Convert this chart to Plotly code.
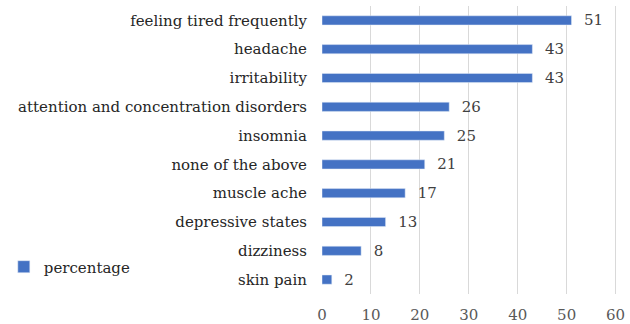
import plotly.graph_objects as go

categories = ["feeling tired frequently", "headache", "irritability",
              "attention and concentration disorders", "insomnia",
              "none of the above", "muscle ache", "depressive states",
              "dizziness", "skin pain"]
values = [51, 43, 43, 26, 25, 21, 17, 13, 8, 2]
series_name = "percentage"
x_ticks = [0, 10, 20, 30, 40, 50, 60]

FONT = "DejaVu Serif"

fig = go.Figure(go.Bar(
    y=categories, x=values, orientation="h", name=series_name,
    marker=dict(color="#4472C4"),
    width=0.32,
    text=values, texttemplate="  %{x}", textposition="outside",
    constraintext="none",
    textfont=dict(family=FONT, size=15, color="#404040"),
    cliponaxis=False, showlegend=True,
))

fig.update_layout(
    width=630, height=324,
    margin=dict(l=322, r=12, t=6, b=30, autoexpand=False),
    paper_bgcolor="white", plot_bgcolor="white",
    font=dict(family=FONT, size=15, color="#262626"),
    showlegend=True,
    legend=dict(x=-1.075, y=0.094, xanchor="left", yanchor="middle",
                font=dict(family=FONT, size=15, color="#262626"),
                bgcolor="rgba(0,0,0,0)", itemwidth=30),
    xaxis=dict(range=[0, 60.5], tickvals=x_ticks, showgrid=True,
               gridcolor="#d9d9d9", gridwidth=1, zeroline=False,
               showline=False, automargin=False,
               tickfont=dict(family=FONT, size=15, color="#595959"),
               ticklabelstandoff=10),
    yaxis=dict(categoryorder="array", categoryarray=categories,
               autorange="reversed", showgrid=False, showline=False,
               automargin=False,
               tickfont=dict(family=FONT, size=15, color="#262626"),
               ticklabelstandoff=14),
)

fig.write_html("out.html")
